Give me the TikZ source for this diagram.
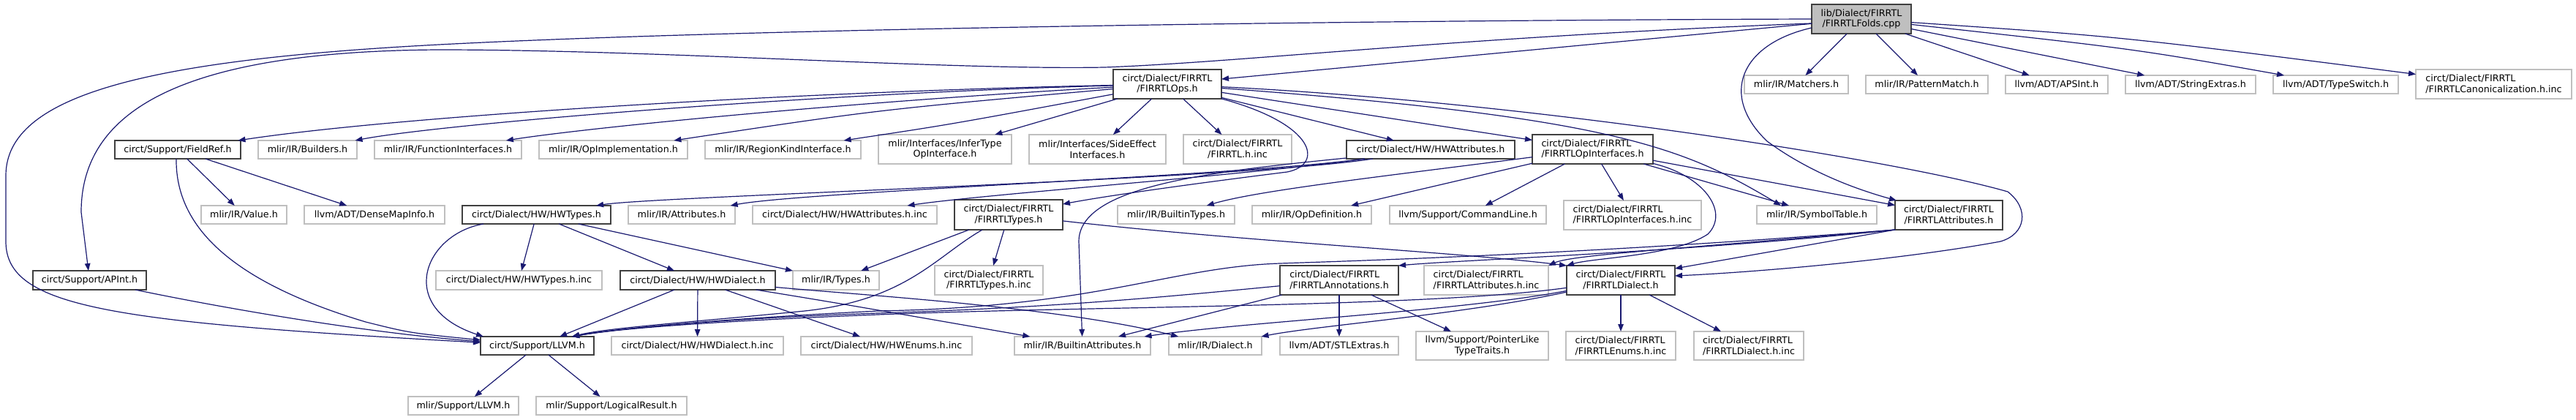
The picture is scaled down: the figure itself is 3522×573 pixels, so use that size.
\documentclass[tikz,border=0pt]{standalone}
\usepackage{fontspec}
\setmainfont{DejaVu Sans}
\usetikzlibrary{arrows.meta}
\definecolor{edgeblue}{HTML}{191970}
\definecolor{lgray}{HTML}{BFBFBF}
\definecolor{dgray}{HTML}{404040}
\newcommand\nodefont{\fontsize{12.7}{14.6}\selectfont}
\newcommand\nb[7]{\node[#6, minimum width={(#4-#2)*1pt}, minimum height={(#5-#3)*1pt}] (#1) at ({(#2+#4)/2},{(#3+#5)/2}) {#7};}
\begin{document}
\begin{tikzpicture}[x=1pt,y=-1pt,
  box/.style={rectangle, draw=dgray, line width=1.1pt, fill=white, inner sep=0pt, outer sep=0pt, font=\nodefont, align=center},
  gbox/.style={box, draw=lgray},
  e/.style={draw=edgeblue, line width=1.2pt, -{Triangle[length=10pt,width=7.5pt]}}]
\path[use as bounding box, fill=white] (0,0) rectangle (3522,573);
% row 0
\nb{folds}{2477}{6}{2613}{46}{box,fill=lgray}{lib/Dialect/FIRRTL\\/FIRRTLFolds.cpp}
% row 1
\nb{ops}{1522}{95}{1670}{135}{box}{circt/Dialect/FIRRTL\\/FIRRTLOps.h}
\nb{matchers}{2385}{103}{2527}{128}{gbox}{mlir/IR/Matchers.h}
\nb{pattern}{2551}{103}{2718}{128}{gbox}{mlir/IR/PatternMatch.h}
\nb{apsint}{2742}{103}{2882}{128}{gbox}{llvm/ADT/APSInt.h}
\nb{strext}{2906}{103}{3084}{128}{gbox}{llvm/ADT/StringExtras.h}
\nb{typesw}{3108}{103}{3279}{128}{gbox}{llvm/ADT/TypeSwitch.h}
\nb{canon}{3303}{95}{3516}{135}{gbox,align=left}{circt/Dialect/FIRRTL\\/FIRRTLCanonicalization.h.inc}
% row 2
\nb{fieldref}{157}{192}{329}{217}{box}{circt/Support/FieldRef.h}
\nb{builders}{353}{192}{488}{217}{gbox}{mlir/IR/Builders.h}
\nb{funcif}{512}{192}{713}{217}{gbox}{mlir/IR/FunctionInterfaces.h}
\nb{opimpl}{737}{192}{940}{217}{gbox}{mlir/IR/OpImplementation.h}
\nb{regionkind}{964}{192}{1177}{217}{gbox}{mlir/IR/RegionKindInterface.h}
\nb{infertype}{1201}{184}{1383}{224}{gbox}{mlir/Interfaces/InferType\\OpInterface.h}
\nb{sideeffect}{1407}{184}{1594}{224}{gbox}{mlir/Interfaces/SideEffect\\Interfaces.h}
\nb{firrtlinc}{1618}{184}{1766}{224}{gbox}{circt/Dialect/FIRRTL\\/FIRRTL.h.inc}
\nb{hwattr}{1841}{192}{2071}{217}{box}{circt/Dialect/HW/HWAttributes.h}
\nb{opif}{2095}{184}{2260}{224}{box,align=left}{circt/Dialect/FIRRTL\\/FIRRTLOpInterfaces.h}
% row 3
\nb{value}{275}{281}{392}{306}{gbox}{mlir/IR/Value.h}
\nb{densemap}{416}{281}{608}{306}{gbox}{llvm/ADT/DenseMapInfo.h}
\nb{hwtypes}{632}{281}{835}{306}{box}{circt/Dialect/HW/HWTypes.h}
\nb{attributes}{859}{281}{1005}{306}{gbox}{mlir/IR/Attributes.h}
\nb{hwattrinc}{1029}{281}{1281}{306}{gbox}{circt/Dialect/HW/HWAttributes.h.inc}
\nb{ftypes}{1305}{273}{1453}{314}{box}{circt/Dialect/FIRRTL\\/FIRRTLTypes.h}
\nb{builtintypes}{1528}{281}{1688}{306}{gbox}{mlir/IR/BuiltinTypes.h}
\nb{opdef}{1712}{281}{1875}{306}{gbox}{mlir/IR/OpDefinition.h}
\nb{cmdline}{1900}{281}{2114}{306}{gbox}{llvm/Support/CommandLine.h}
\nb{opifinc}{2138}{274}{2326}{314}{gbox,align=left}{circt/Dialect/FIRRTL\\/FIRRTLOpInterfaces.h.inc}
\nb{symtab}{2402}{281}{2566}{306}{gbox}{mlir/IR/SymbolTable.h}
\nb{fattr}{2591}{274}{2738}{314}{box}{circt/Dialect/FIRRTL\\/FIRRTLAttributes.h}
% row 4
\nb{apint}{45}{370}{200}{396}{box}{circt/Support/APInt.h}
\nb{hwtypesinc}{596}{370}{823}{396}{gbox}{circt/Dialect/HW/HWTypes.h.inc}
\nb{hwdialect}{848}{370}{1060}{396}{box}{circt/Dialect/HW/HWDialect.h}
\nb{types}{1084}{370}{1202}{396}{gbox}{mlir/IR/Types.h}
\nb{ftypesinc}{1278}{363}{1426}{403}{gbox}{circt/Dialect/FIRRTL\\/FIRRTLTypes.h.inc}
\nb{fanno}{1750}{363}{1912}{403}{box,align=left}{circt/Dialect/FIRRTL\\/FIRRTLAnnotations.h}
\nb{fattrinc}{1947}{363}{2117}{403}{gbox,align=left}{circt/Dialect/FIRRTL\\/FIRRTLAttributes.h.inc}
\nb{fdialect}{2142}{363}{2290}{403}{box}{circt/Dialect/FIRRTL\\/FIRRTLDialect.h}
% row 5
\nb{llvm}{657}{460}{812}{485}{box}{circt/Support/LLVM.h}
\nb{hwdialectinc}{836}{460}{1071}{485}{gbox}{circt/Dialect/HW/HWDialect.h.inc}
\nb{hwenums}{1095}{460}{1329}{485}{gbox}{circt/Dialect/HW/HWEnums.h.inc}
\nb{builtinattr}{1387}{460}{1573}{485}{gbox}{mlir/IR/BuiltinAttributes.h}
\nb{dialect}{1598}{460}{1725}{485}{gbox}{mlir/IR/Dialect.h}
\nb{stlextras}{1750}{460}{1912}{485}{gbox}{llvm/ADT/STLExtras.h}
\nb{pointerlike}{1936}{453}{2117}{492}{gbox}{llvm/Support/PointerLike\\TypeTraits.h}
\nb{fenumsinc}{2141}{453}{2291}{492}{gbox,align=left}{circt/Dialect/FIRRTL\\/FIRRTLEnums.h.inc}
\nb{fdialectinc}{2316}{453}{2466}{492}{gbox,align=left}{circt/Dialect/FIRRTL\\/FIRRTLDialect.h.inc}
% row 6
\nb{mlirllvm}{558}{542}{709}{567}{gbox}{mlir/Support/LLVM.h}
\nb{logicalresult}{733}{542}{939}{567}{gbox}{mlir/Support/LogicalResult.h}

% ---- edges from FIRRTLFolds.cpp
\draw[e] (folds) -- (ops);
\draw[e] (folds) -- (matchers);
\draw[e] (folds) -- (pattern);
\draw[e] (folds) -- (apsint);
\draw[e] (folds) -- (strext);
\draw[e] (folds) .. controls (2920,67) .. (typesw);
\draw[e] (folds) .. controls (2900,50) .. (canon);
\draw[e] (folds.west) .. controls (1800,28) and (1000,40) .. (600,61) .. controls (200,82) and (8,130) .. (8,240) -- (8,330) .. controls (8,420) and (150,440) .. (llvm);
\draw[e] (folds.185) .. controls (2000,50) and (1700,85) .. (1510,92) .. controls (1300,96) and (900,68) .. (600,68) .. controls (250,70) and (111,150) .. (111,290) -- (apint);
\draw[e] (folds.190) .. controls (2380,60) and (2350,130) .. (2416,193) .. controls (2480,240) and (2550,262) .. (fattr);
% ---- edges from FIRRTLOps.h
\draw[e] (ops) .. controls (1100,125) and (550,158) .. (fieldref);
\draw[e] (ops) .. controls (1100,128) and (600,170) .. (builders);
\draw[e] (ops) .. controls (1150,140) and (800,175) .. (funcif);
\draw[e] (ops) .. controls (1200,150) .. (opimpl);
\draw[e] (ops) .. controls (1300,170) .. (regionkind);
\draw[e] (ops) -- (infertype);
\draw[e] (ops) -- (sideeffect);
\draw[e] (ops) -- (firrtlinc);
\draw[e] (ops) -- (hwattr);
\draw[e] (ops) -- (opif);
\draw[e] (ops) .. controls (2200,160) and (2300,200) .. ([xshift=33pt]symtab.north west);
\draw[e] (ops) .. controls (2100,140) and (2600,220) .. (2745,262) .. controls (2775,285) and (2770,320) .. (2735,330) .. controls (2600,355) and (2400,372) .. ([yshift=6pt]fdialect.east);
\draw[e] (ops) .. controls (1800,170) and (1810,225) .. (1760,235) .. controls (1600,255) and (1500,270) .. ([yshift=-6pt]ftypes.north east);
% ---- FieldRef.h
\draw[e] (fieldref) -- (value);
\draw[e] (fieldref) -- (densemap);
\draw[e] ([xshift=-2pt]fieldref.south) .. controls (240,300) and (300,380) .. (500,440) .. controls (560,455) .. (llvm);
% ---- HWAttributes.h
\draw[e] (hwattr) .. controls (1700,245) and (900,268) .. (hwtypes);
\draw[e] (hwattr) .. controls (1700,240) and (1100,262) .. (attributes);
\draw[e] (hwattr) .. controls (1700,240) and (1350,265) .. (hwattrinc);
\draw[e] (hwattr) .. controls (1650,235) and (1475,255) .. (1475,330) -- (builtinattr);
% ---- FIRRTLOpInterfaces.h
\draw[e] (opif) -- (opdef);
\draw[e] (opif) -- (cmdline);
\draw[e] (opif) -- (opifinc);
\draw[e] (opif) -- ([xshift=44pt]symtab.north west);
\draw[e] (opif) -- (fattr);
\draw[e] (opif) .. controls (1900,240) and (1720,260) .. (builtintypes);
\draw[e] (opif) .. controls (2330,240) and (2365,290) .. (2335,320) .. controls (2290,350) and (2180,352) .. (fdialect.north west);
% ---- HWTypes.h
\draw[e] (hwtypes) .. controls (580,320) and (540,420) .. ([xshift=4pt]llvm.north west);
\draw[e] (hwtypes) -- (hwtypesinc);
\draw[e] (hwtypes) -- (hwdialect);
\draw[e] (hwtypes) -- (types);
% ---- HWDialect.h
\draw[e] (hwdialect) -- (llvm);
\draw[e] (hwdialect) -- (hwdialectinc);
\draw[e] (hwdialect) -- (hwenums);
\draw[e] (hwdialect) .. controls (1150,415) .. (builtinattr);
\draw[e] (hwdialect) .. controls (1200,405) and (1450,420) .. (dialect);
% ---- FIRRTLTypes.h
\draw[e] (ftypes) -- (types);
\draw[e] (ftypes) -- (ftypesinc);
\draw[e] (ftypes) .. controls (1280,350) and (1240,410) .. (1100,425) .. controls (950,440) and (830,448) .. ([xshift=-30pt]llvm.north east);
\draw[e] (ftypes) .. controls (1700,330) and (2000,345) .. (fdialect.north west);
% ---- FIRRTLAttributes.h
\draw[e] (fattr.south west) -- ([yshift=16pt]fdialect.east);
\draw[e] (fattr.south west) .. controls (2300,345) and (2000,355) .. (fanno.north east);
\draw[e] (fattr.south west) .. controls (2300,340) and (2150,348) .. (fattrinc.north east);
\draw[e] (fattr.south west) .. controls (2200,345) and (1900,355) .. (1750,360) .. controls (1600,365) and (1500,420) .. (1200,425) .. controls (1000,435) and (850,448) .. ([xshift=-30pt]llvm.north east);
% ---- FIRRTLAnnotations.h
\draw[e] (fanno) -- (stlextras);
\draw[e] (fanno) -- (pointerlike);
\draw[e] (fanno) -- (builtinattr);
\draw[e] (fanno) .. controls (1600,405) and (1450,420) .. (1200,428) .. controls (1000,435) and (850,448) .. ([xshift=-30pt]llvm.north east);
% ---- FIRRTLDialect.h
\draw[e] (fdialect) -- (fenumsinc);
\draw[e] (fdialect) -- (fdialectinc);
\draw[e] (fdialect) .. controls (2000,430) and (1800,445) .. (dialect);
\draw[e] (fdialect) .. controls (2000,425) and (1700,440) .. (builtinattr);
\draw[e] (fdialect) .. controls (1950,420) and (1500,418) .. (1200,430) .. controls (1000,438) and (850,448) .. ([xshift=-30pt]llvm.north east);
% ---- APInt.h
\draw[e] (apint) .. controls (300,420) and (500,455) .. (llvm);
% ---- LLVM.h
\draw[e] (llvm) -- (mlirllvm);
\draw[e] (llvm) -- (logicalresult);
\end{tikzpicture}
\end{document}
